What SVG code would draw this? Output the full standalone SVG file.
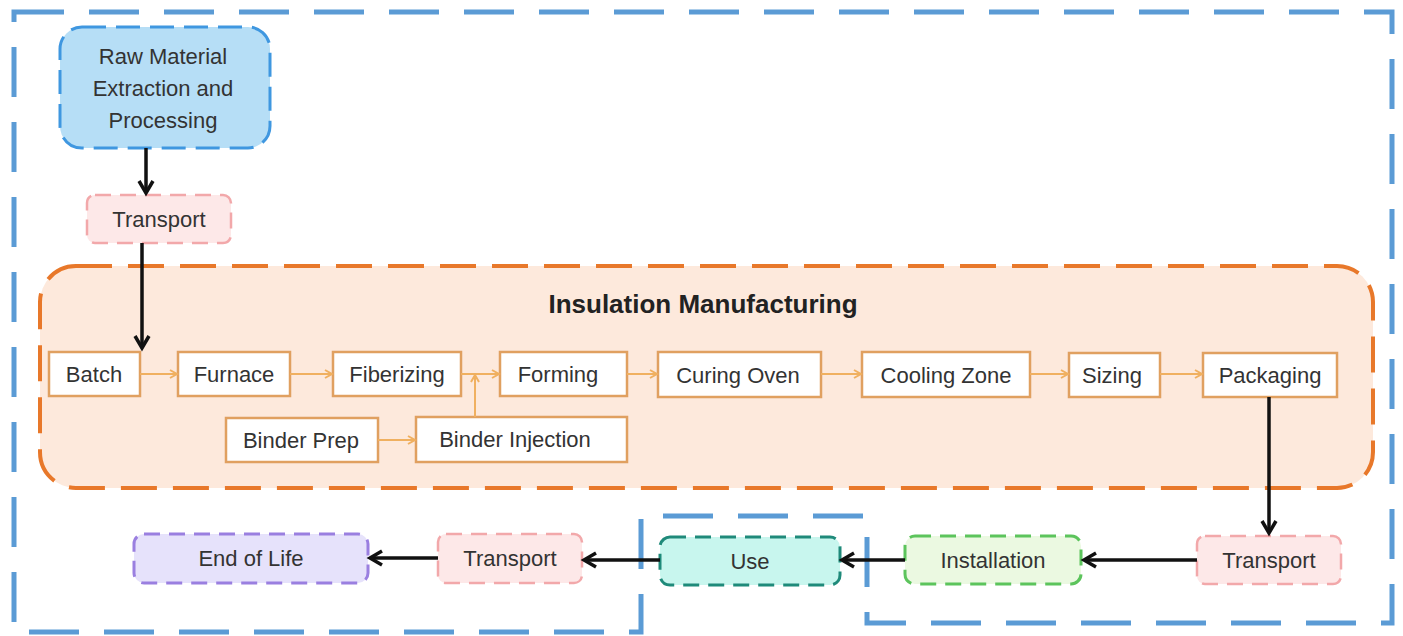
<svg xmlns="http://www.w3.org/2000/svg" width="1403" height="636" viewBox="0 0 1403 636">
<defs>
<style>
text{font-family:"Liberation Sans",Arial,sans-serif;fill:#333;text-anchor:middle}
.t{font-size:22px}
.title{font-size:26px;font-weight:bold;fill:#222}
.step{fill:#fff;stroke:#e0a060;stroke-width:2.5}
.oa{stroke:#f0b060;stroke-width:2;fill:none;marker-end:url(#oh)}
.ba{stroke:#111;stroke-width:3.5;fill:none;marker-end:url(#bh)}
.tr{fill:#fde8e8;stroke:#f2a8aa;stroke-width:2.5;stroke-dasharray:16 9}
</style>
<marker id="oh" markerWidth="12" markerHeight="12" refX="9" refY="6" orient="auto" markerUnits="userSpaceOnUse">
<polyline points="2,2 9,6 2,10" fill="none" stroke="#f0b060" stroke-width="2"/>
</marker>
<marker id="bh" markerWidth="20" markerHeight="20" refX="16" refY="10" orient="auto" markerUnits="userSpaceOnUse">
<polyline points="4,3 16,10 4,17" fill="none" stroke="#111" stroke-width="3.5"/>
</marker>
</defs>
<rect width="1403" height="636" fill="#fff"/>
<g id="boundary">
<polygon points="14,12 1392,12 1392,623 867,623 867,516 641,516 641,632 14,632" fill="none" stroke="#5b9bd5" stroke-width="5" stroke-dasharray="50 25"/>
</g>
<g id="manufacturing">
<rect x="40" y="266" width="1333" height="222" rx="36" fill="#fde9dc" stroke="#e8782a" stroke-width="4" stroke-dasharray="36 16"/>
<text class="title" x="703" y="313">Insulation Manufacturing</text>
</g>
<g id="raw-material">
<rect x="60" y="27" width="210" height="121" rx="22" fill="#b6def6" stroke="#3f97e0" stroke-width="3" stroke-dasharray="24 10"/>
<text class="t" x="163" y="64">Raw Material</text>
<text class="t" x="163" y="96">Extraction and</text>
<text class="t" x="163" y="128">Processing</text>
</g>
<g id="transport-1">
<rect class="tr" x="87" y="195" width="144" height="48" rx="8"/>
<text class="t" x="159" y="227">Transport</text>
</g>
<g id="batch"><rect class="step" x="49" y="352" width="91" height="44"/><text class="t" x="94" y="382">Batch</text></g>
<g id="furnace"><rect class="step" x="178" y="352" width="112" height="44"/><text class="t" x="234" y="382">Furnace</text></g>
<g id="fiberizing"><rect class="step" x="333" y="352" width="128" height="44"/><text class="t" x="397" y="382">Fiberizing</text></g>
<g id="forming"><rect class="step" x="500" y="352" width="127" height="44"/><text class="t" x="558" y="382">Forming</text></g>
<g id="curing-oven"><rect class="step" x="658" y="352" width="163" height="45"/><text class="t" x="738" y="383">Curing Oven</text></g>
<g id="cooling-zone"><rect class="step" x="862" y="352" width="168" height="45"/><text class="t" x="946" y="383">Cooling Zone</text></g>
<g id="sizing"><rect class="step" x="1069" y="353" width="91" height="44"/><text class="t" x="1112" y="383">Sizing</text></g>
<g id="packaging"><rect class="step" x="1203" y="353" width="134" height="44"/><text class="t" x="1270" y="383">Packaging</text></g>
<g id="binder-prep"><rect class="step" x="226" y="418" width="152" height="44"/><text class="t" x="301" y="448">Binder Prep</text></g>
<g id="binder-injection"><rect class="step" x="416" y="417" width="211" height="45"/><text class="t" x="515" y="447">Binder Injection</text></g>
<g id="transport-2">
<rect class="tr" x="1197" y="536" width="144" height="48" rx="8"/>
<text class="t" x="1269" y="568">Transport</text>
</g>
<g id="installation">
<rect x="905" y="536" width="176" height="48" rx="10" fill="#ebf9e1" stroke="#5cc45c" stroke-width="3" stroke-dasharray="16 9"/>
<text class="t" x="993" y="568">Installation</text>
</g>
<g id="use">
<rect x="660" y="537" width="180" height="48" rx="10" fill="#c8f6ee" stroke="#1f8a7a" stroke-width="3" stroke-dasharray="16 9"/>
<text class="t" x="750" y="569">Use</text>
</g>
<g id="transport-3">
<rect class="tr" x="438" y="534" width="144" height="49" rx="8"/>
<text class="t" x="510" y="566">Transport</text>
</g>
<g id="end-of-life">
<rect x="134" y="534" width="234" height="49" rx="10" fill="#e6e2fb" stroke="#9a7fe0" stroke-width="3" stroke-dasharray="16 9"/>
<text class="t" x="251" y="566">End of Life</text>
</g>
<g id="connectors">
<line class="ba" x1="146" y1="148" x2="146" y2="193"/>
<line class="ba" x1="142" y1="243" x2="142" y2="348"/>
<line class="oa" x1="140" y1="374" x2="177" y2="374"/>
<line class="oa" x1="290" y1="374" x2="332" y2="374"/>
<line class="oa" x1="461" y1="374" x2="499" y2="374"/>
<line class="oa" x1="475" y1="417" x2="475" y2="375"/>
<line class="oa" x1="378" y1="440" x2="415" y2="440"/>
<line class="oa" x1="627" y1="374" x2="657" y2="374"/>
<line class="oa" x1="821" y1="374" x2="861" y2="374"/>
<line class="oa" x1="1030" y1="374" x2="1068" y2="374"/>
<line class="oa" x1="1160" y1="374" x2="1202" y2="374"/>
<line class="ba" x1="1269" y1="397" x2="1269" y2="533"/>
<line class="ba" x1="1197" y1="560" x2="1084" y2="560"/>
<line class="ba" x1="905" y1="560" x2="842" y2="560"/>
<line class="ba" x1="660" y1="560" x2="584" y2="560"/>
<line class="ba" x1="438" y1="558" x2="370" y2="558"/>
</g>
</svg>
